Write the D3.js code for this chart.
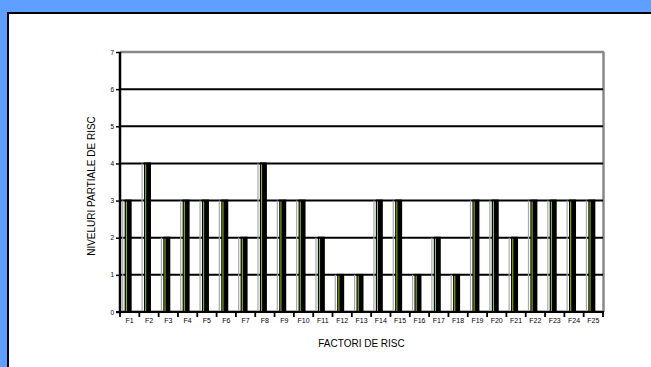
<!DOCTYPE html>
<html>
<head>
<meta charset="utf-8">
<script src="https://cdn.jsdelivr.net/npm/d3@7"></script>
<style>
  html, body { margin: 0; padding: 0; background: #fff; overflow: hidden; }
  svg { display: block; overflow: hidden; }
  text { font-family: "Liberation Sans", Arial, sans-serif; fill: #000; }
</style>
</head>
<body>
<svg id="chart" width="651" height="367" viewBox="0 0 651 367"></svg>
<script>
// Risk factors and their partial risk levels
const categories = ["F1","F2","F3","F4","F5","F6","F7","F8","F9","F10","F11","F12","F13",
                    "F14","F15","F16","F17","F18","F19","F20","F21","F22","F23","F24","F25"];
const values = [3,4,2,3,3,3,2,4,3,3,2,1,1,3,3,1,2,1,3,3,2,3,3,3,3];
const yTicks = [0,1,2,3,4,5,6,7];

const svg = d3.select("#chart");

// Blue band along the top and left, white panel framed on those two sides
svg.append("rect").attr("x", 0).attr("y", 0).attr("width", 651).attr("height", 12).attr("fill", "#5f9fff");
svg.append("rect").attr("x", 0).attr("y", 0).attr("width", 7).attr("height", 367).attr("fill", "#5f9fff");
svg.append("line").attr("x1", 7).attr("x2", 651).attr("y1", 13).attr("y2", 13)
  .attr("stroke", "#000").attr("stroke-width", 2);
svg.append("line").attr("x1", 8).attr("x2", 8).attr("y1", 12).attr("y2", 367)
  .attr("stroke", "#000").attr("stroke-width", 2);

const plotL = 120, plotR = 603, plotT = 52, plotB = 312;

const x = d3.scaleBand().domain(categories).range([plotL, plotR]).padding(0);
const y = d3.scaleLinear().domain([0, 7]).range([plotB, plotT]);

// Floor shade and back-wall edges
svg.append("line").attr("x1", plotL).attr("x2", plotR).attr("y1", plotB - 1.5).attr("y2", plotB - 1.5)
  .attr("stroke", "#b0b0b0").attr("stroke-width", 1);
svg.append("line").attr("x1", plotL).attr("x2", plotR + 1).attr("y1", y(7)).attr("y2", y(7))
  .attr("stroke", "#888").attr("stroke-width", 2.5);
svg.append("line").attr("x1", plotR + 0.5).attr("x2", plotR + 0.5).attr("y1", y(7)).attr("y2", plotB)
  .attr("stroke", "#888").attr("stroke-width", 2.5);

// Horizontal gridlines
svg.append("g").selectAll("line").data(yTicks.filter(t => t > 0 && t < 7)).join("line")
  .attr("x1", plotL).attr("x2", plotR)
  .attr("y1", d => y(d)).attr("y2", d => y(d))
  .attr("stroke", "#000").attr("stroke-width", 2);

// Bars: shadow edge, black body, green highlight stripe
const barW = 7;
const barX = d => x(d) + x.bandwidth() / 2 - 1.5 - barW / 2;
const bars = svg.append("g").selectAll("g").data(categories).join("g");
bars.append("rect")
  .attr("x", d => barX(d) - 2.5).attr("width", 1.2)
  .attr("y", (d, i) => y(values[i])).attr("height", (d, i) => plotB - y(values[i]))
  .attr("fill", "#a8a8a8");
bars.append("rect")
  .attr("x", d => barX(d)).attr("width", barW)
  .attr("y", (d, i) => y(values[i]) - 1).attr("height", (d, i) => plotB - y(values[i]) + 1)
  .attr("fill", "#000");
bars.append("rect")
  .attr("x", d => barX(d) + 1.2).attr("width", 1)
  .attr("y", (d, i) => y(values[i]) + 1).attr("height", (d, i) => plotB - y(values[i]) - 2)
  .attr("fill", "#9acd00");

// Y axis
const yAxis = svg.append("g").attr("transform", `translate(${plotL},0)`)
  .call(d3.axisLeft(y).tickValues(yTicks).tickSize(4).tickPadding(2).tickFormat(d3.format("d")));
yAxis.select(".domain").attr("stroke", "#000").attr("stroke-width", 2.5).attr("d", `M0,${plotT}V${plotB}`);
yAxis.selectAll(".tick line").attr("stroke", "#000").attr("stroke-width", 1.5);
yAxis.selectAll(".tick text").attr("font-size", 6.5).attr("fill", "#000")
  .attr("font-family", "Liberation Sans, Arial, sans-serif");

// X axis with ticks at category boundaries
const xAxisG = svg.append("g");
xAxisG.append("line").attr("x1", plotL - 4).attr("x2", plotR + 1).attr("y1", plotB).attr("y2", plotB)
  .attr("stroke", "#000").attr("stroke-width", 2);
const bounds = categories.map(c => x(c)).concat([plotR]);
xAxisG.selectAll("line.tk").data(bounds).join("line").attr("class", "tk")
  .attr("x1", d => d).attr("x2", d => d).attr("y1", plotB).attr("y2", plotB + 5)
  .attr("stroke", "#000").attr("stroke-width", 1.8);
xAxisG.selectAll("text").data(categories).join("text")
  .attr("x", d => x(d) + x.bandwidth() / 2).attr("y", plotB + 11)
  .attr("text-anchor", "middle").attr("font-size", 7)
  .text(d => d);

// Axis titles
svg.append("text").attr("transform", `translate(95,186) rotate(-90)`)
  .attr("text-anchor", "middle").attr("font-size", 10).text("NIVELURI PARTIALE DE RISC");
svg.append("text").attr("x", (plotL + plotR) / 2).attr("y", 347)
  .attr("text-anchor", "middle").attr("font-size", 10).text("FACTORI DE RISC");
</script>
</body>
</html>
